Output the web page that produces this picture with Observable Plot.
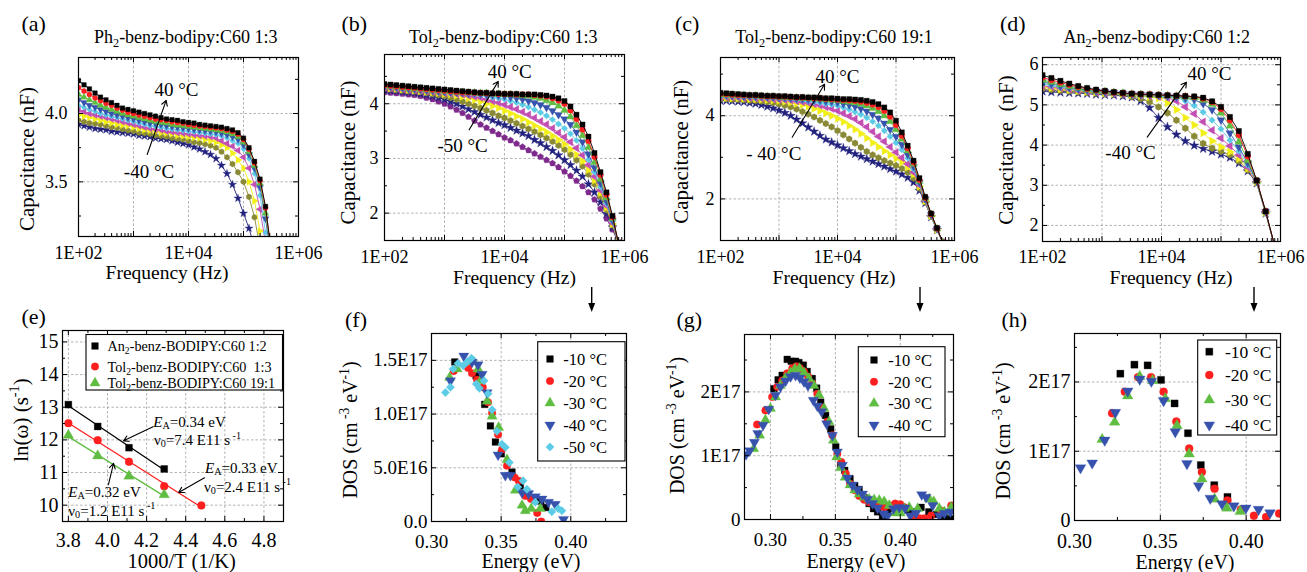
<!DOCTYPE html>
<html><head><meta charset="utf-8">
<script src="https://cdn.jsdelivr.net/npm/d3@7"></script>
<script src="https://cdn.jsdelivr.net/npm/@observablehq/plot@0.6"></script>
<style>
html,body{margin:0;padding:0;background:#fff;}
#wrap{position:relative;width:1307px;height:572px;overflow:hidden;background:#fff;}
#wrap svg{position:absolute;}
</style></head><body><div id="wrap"></div>
<script>
// ---------------- DATA ----------------
// (a)-(c) frequencies, 10 points per decade (Hz)
const freq10 = [100,126,158,200,251,316,398,501,631,794,1000,1259,1585,1995,2512,3162,3981,5012,6310,7943,10000,12589,15849,19953,25119,31623,39811,50119,63096,79433,100000,125893,158489,199526,251189,316228,398107,501187,630957,794328];
// (d) frequencies
const freq15 = [100,141,200,282,398,562,794,1122,1585,2239,3162,4467,6310,8913,12589,17783,25119,35481,50119,70795,100000,141254,199526,281838,398107,562341,794328];

// (a) Ph2-benz-bodipy:C60 1:3, capacitance (nF), 40 °C ... -40 °C
const capA_p40 = [4.24,4.21,4.18,4.15,4.12,4.10,4.08,4.06,4.04,4.03,4.02,4.01,4.00,3.99,3.98,3.97,3.96,3.955,3.95,3.94,3.935,3.93,3.92,3.915,3.91,3.905,3.90,3.89,3.88,3.86,3.82,3.75,3.65,3.52,3.32,3.00];
const capA_p30 = [4.19,4.165,4.14,4.115,4.095,4.075,4.06,4.04,4.025,4.01,4.00,3.99,3.98,3.97,3.96,3.955,3.95,3.94,3.935,3.93,3.92,3.915,3.91,3.905,3.90,3.895,3.89,3.88,3.87,3.85,3.81,3.74,3.64,3.51,3.31,3.02];
const capA_p20 = [4.14,4.12,4.10,4.08,4.06,4.045,4.03,4.015,4.00,3.99,3.98,3.97,3.96,3.95,3.94,3.935,3.93,3.92,3.915,3.91,3.905,3.90,3.895,3.89,3.885,3.88,3.875,3.865,3.85,3.83,3.79,3.72,3.62,3.49,3.27,2.98];
const capA_p10 = [4.10,4.08,4.06,4.045,4.03,4.015,4.00,3.99,3.98,3.97,3.96,3.95,3.94,3.93,3.925,3.92,3.91,3.905,3.90,3.895,3.89,3.885,3.88,3.875,3.87,3.865,3.855,3.845,3.83,3.81,3.77,3.70,3.60,3.46,3.23,2.95];
const capA_0 = [4.06,4.045,4.03,4.015,4.00,3.99,3.98,3.97,3.96,3.95,3.94,3.93,3.92,3.91,3.905,3.90,3.89,3.885,3.88,3.875,3.87,3.865,3.86,3.855,3.85,3.845,3.835,3.82,3.80,3.78,3.74,3.67,3.56,3.40,3.13,2.85];
const capA_m10 = [4.03,4.015,4.00,3.99,3.98,3.97,3.96,3.95,3.94,3.93,3.92,3.91,3.90,3.89,3.885,3.88,3.87,3.865,3.86,3.855,3.85,3.845,3.84,3.835,3.83,3.82,3.80,3.78,3.76,3.73,3.68,3.60,3.48,3.30,3.05];
const capA_m20 = [3.99,3.98,3.97,3.96,3.95,3.94,3.93,3.92,3.915,3.91,3.90,3.89,3.88,3.875,3.87,3.86,3.855,3.85,3.84,3.835,3.83,3.825,3.82,3.81,3.80,3.79,3.77,3.75,3.71,3.66,3.60,3.50,3.36,3.14,2.90];
const capA_m30 = [3.95,3.94,3.93,3.925,3.92,3.91,3.90,3.895,3.885,3.875,3.87,3.86,3.855,3.85,3.84,3.835,3.83,3.82,3.815,3.81,3.80,3.79,3.785,3.775,3.765,3.75,3.72,3.68,3.63,3.57,3.50,3.39,3.24,3.02];
const capA_m40 = [3.92,3.91,3.90,3.89,3.885,3.88,3.87,3.865,3.86,3.855,3.85,3.84,3.835,3.83,3.82,3.815,3.81,3.80,3.79,3.78,3.77,3.755,3.74,3.72,3.70,3.67,3.62,3.56,3.48,3.38,3.27,3.16,3.02];

// (b) Tol2-benz-bodipy:C60 1:3, 40 °C ... -50 °C
const capB_p40 = [4.36,4.35,4.34,4.33,4.32,4.31,4.30,4.29,4.28,4.27,4.26,4.25,4.24,4.23,4.22,4.21,4.20,4.20,4.19,4.19,4.18,4.18,4.18,4.17,4.17,4.17,4.16,4.15,4.13,4.10,4.05,3.95,3.80,3.62,3.40,3.10,2.75,2.38,1.95,1.45];
const capB_p30 = [4.34,4.33,4.32,4.31,4.30,4.29,4.28,4.27,4.26,4.25,4.24,4.23,4.22,4.21,4.21,4.20,4.20,4.19,4.19,4.18,4.18,4.18,4.17,4.17,4.17,4.16,4.15,4.13,4.10,4.06,4.00,3.88,3.72,3.53,3.32,3.03,2.70,2.34,1.93,1.45];
const capB_p20 = [4.33,4.32,4.31,4.30,4.29,4.28,4.27,4.26,4.25,4.24,4.23,4.22,4.21,4.21,4.20,4.20,4.19,4.19,4.18,4.18,4.17,4.17,4.16,4.15,4.14,4.12,4.10,4.06,4.02,3.96,3.88,3.76,3.60,3.42,3.20,2.93,2.62,2.28,1.90,1.45];
const capB_p10 = [4.32,4.31,4.30,4.29,4.28,4.27,4.26,4.25,4.24,4.23,4.22,4.21,4.21,4.20,4.19,4.19,4.18,4.17,4.16,4.15,4.14,4.12,4.10,4.08,4.05,4.02,3.98,3.93,3.87,3.80,3.72,3.62,3.48,3.30,3.08,2.83,2.55,2.22,1.87,1.45];
const capB_0 = [4.31,4.30,4.29,4.28,4.27,4.26,4.25,4.24,4.23,4.22,4.21,4.20,4.20,4.19,4.18,4.17,4.16,4.14,4.12,4.10,4.08,4.05,4.02,3.98,3.94,3.89,3.84,3.78,3.71,3.63,3.55,3.45,3.33,3.18,2.98,2.75,2.48,2.18,1.85,1.45];
const capB_m10 = [4.30,4.29,4.28,4.27,4.26,4.25,4.24,4.23,4.22,4.21,4.20,4.19,4.18,4.17,4.15,4.13,4.11,4.08,4.05,4.02,3.98,3.94,3.90,3.85,3.80,3.74,3.68,3.62,3.55,3.47,3.39,3.30,3.19,3.06,2.88,2.67,2.42,2.14,1.82,1.45];
const capB_m20 = [4.29,4.28,4.27,4.26,4.25,4.24,4.23,4.22,4.21,4.20,4.18,4.17,4.15,4.13,4.10,4.07,4.04,4.00,3.96,3.92,3.87,3.82,3.77,3.72,3.66,3.60,3.54,3.48,3.41,3.34,3.26,3.17,3.07,2.95,2.79,2.60,2.37,2.10,1.80,1.45];
const capB_m30 = [4.28,4.27,4.26,4.25,4.24,4.23,4.22,4.20,4.18,4.16,4.14,4.11,4.08,4.04,4.00,3.96,3.92,3.88,3.83,3.78,3.74,3.69,3.64,3.59,3.54,3.49,3.43,3.37,3.31,3.24,3.16,3.07,2.97,2.86,2.71,2.53,2.31,2.06,1.78,1.45];
const capB_m40 = [4.25,4.24,4.23,4.22,4.21,4.20,4.18,4.16,4.14,4.11,4.08,4.04,4.00,3.95,3.90,3.85,3.80,3.75,3.70,3.65,3.61,3.56,3.51,3.46,3.41,3.34,3.28,3.21,3.14,3.06,2.97,2.88,2.78,2.67,2.53,2.38,2.20,1.99,1.74,1.45];
const capB_m50 = [4.21,4.20,4.19,4.18,4.17,4.16,4.14,4.11,4.08,4.04,4.00,3.95,3.89,3.83,3.76,3.69,3.62,3.56,3.50,3.44,3.38,3.33,3.27,3.21,3.15,3.09,3.03,2.97,2.91,2.84,2.76,2.68,2.59,2.49,2.38,2.25,2.08,1.90,1.70,1.45];

// (c) Tol2-benz-bodipy:C60 19:1, 40 °C ... -40 °C
const capC_p40 = [4.55,4.54,4.53,4.52,4.51,4.50,4.50,4.49,4.48,4.48,4.47,4.47,4.46,4.45,4.45,4.44,4.44,4.43,4.42,4.42,4.41,4.40,4.40,4.39,4.38,4.36,4.33,4.28,4.20,4.08,3.88,3.60,3.28,2.92,2.50,2.05,1.65,1.30,0.95,0.70];
const capC_p30 = [4.53,4.52,4.51,4.50,4.50,4.49,4.49,4.48,4.47,4.47,4.46,4.46,4.45,4.44,4.44,4.43,4.42,4.42,4.41,4.40,4.39,4.38,4.37,4.36,4.34,4.31,4.27,4.21,4.12,3.98,3.78,3.52,3.22,2.88,2.46,2.03,1.64,1.29,0.95,0.70];
const capC_p20 = [4.51,4.50,4.50,4.49,4.49,4.48,4.48,4.47,4.46,4.46,4.45,4.44,4.44,4.43,4.42,4.42,4.41,4.40,4.39,4.38,4.37,4.35,4.33,4.31,4.28,4.24,4.18,4.10,4.00,3.86,3.67,3.44,3.16,2.84,2.43,2.02,1.63,1.28,0.95,0.70];
const capC_p10 = [4.49,4.49,4.48,4.48,4.47,4.47,4.46,4.46,4.45,4.45,4.44,4.43,4.42,4.41,4.40,4.39,4.38,4.37,4.35,4.34,4.32,4.29,4.26,4.22,4.17,4.11,4.03,3.94,3.82,3.67,3.50,3.31,3.07,2.78,2.40,2.00,1.62,1.28,0.95,0.70];
const capC_0 = [4.47,4.47,4.46,4.46,4.45,4.45,4.44,4.44,4.43,4.43,4.42,4.41,4.40,4.38,4.37,4.35,4.33,4.31,4.29,4.27,4.24,4.20,4.15,4.09,4.03,3.95,3.86,3.76,3.64,3.50,3.35,3.18,2.98,2.72,2.37,1.98,1.61,1.27,0.95,0.70];
const capC_m10 = [4.45,4.45,4.44,4.44,4.43,4.43,4.42,4.42,4.41,4.40,4.39,4.38,4.37,4.35,4.33,4.31,4.28,4.25,4.21,4.17,4.12,4.06,3.99,3.92,3.83,3.73,3.62,3.50,3.38,3.25,3.12,2.99,2.84,2.64,2.33,1.96,1.60,1.27,0.95,0.70];
const capC_m20 = [4.43,4.43,4.42,4.42,4.41,4.40,4.40,4.39,4.38,4.37,4.36,4.34,4.32,4.29,4.26,4.22,4.17,4.12,4.06,4.00,3.93,3.85,3.76,3.67,3.57,3.46,3.35,3.25,3.15,3.06,2.97,2.88,2.76,2.59,2.30,1.95,1.59,1.26,0.95,0.70];
const capC_m30 = [4.40,4.40,4.39,4.39,4.38,4.37,4.36,4.35,4.33,4.31,4.28,4.25,4.21,4.16,4.10,4.04,3.97,3.89,3.81,3.73,3.64,3.54,3.44,3.34,3.24,3.14,3.06,2.99,2.92,2.86,2.80,2.73,2.64,2.50,2.26,1.93,1.58,1.26,0.95,0.70];
const capC_m40 = [4.36,4.36,4.35,4.34,4.33,4.31,4.29,4.26,4.22,4.18,4.13,4.07,4.00,3.91,3.82,3.72,3.62,3.52,3.43,3.36,3.29,3.22,3.15,3.08,3.02,2.96,2.90,2.84,2.78,2.72,2.66,2.59,2.51,2.40,2.20,1.90,1.56,1.25,0.95,0.70];

// (d) An2-benz-bodipy:C60 1:2, 40 °C ... -40 °C
const capD_p40 = [5.74,5.67,5.60,5.53,5.47,5.42,5.38,5.35,5.32,5.30,5.28,5.27,5.26,5.25,5.24,5.23,5.22,5.21,5.18,5.09,4.95,4.70,4.35,3.78,3.12,2.35,1.50];
const capD_p30 = [5.68,5.62,5.56,5.50,5.45,5.40,5.37,5.34,5.31,5.29,5.28,5.27,5.26,5.25,5.24,5.23,5.22,5.20,5.16,5.07,4.90,4.62,4.25,3.72,3.12,2.35,1.50];
const capD_p20 = [5.62,5.57,5.51,5.46,5.42,5.38,5.35,5.33,5.31,5.29,5.27,5.26,5.25,5.24,5.23,5.22,5.20,5.18,5.12,5.02,4.80,4.48,4.08,3.62,3.10,2.34,1.50];
const capD_p10 = [5.57,5.52,5.47,5.43,5.40,5.37,5.34,5.32,5.30,5.28,5.27,5.26,5.25,5.24,5.22,5.20,5.17,5.13,5.03,4.88,4.62,4.30,3.95,3.55,3.10,2.34,1.50];
const capD_0 = [5.52,5.48,5.44,5.41,5.38,5.35,5.33,5.31,5.29,5.28,5.27,5.26,5.24,5.22,5.20,5.18,5.10,4.98,4.82,4.62,4.40,4.12,3.85,3.50,3.10,2.33,1.50];
const capD_m10 = [5.48,5.45,5.42,5.39,5.36,5.34,5.32,5.30,5.29,5.28,5.26,5.25,5.23,5.21,5.18,5.10,4.95,4.78,4.58,4.37,4.17,3.98,3.75,3.45,3.08,2.33,1.50];
const capD_m20 = [5.44,5.42,5.39,5.37,5.35,5.33,5.31,5.29,5.28,5.27,5.25,5.23,5.20,5.16,5.05,4.88,4.68,4.50,4.30,4.10,3.95,3.83,3.66,3.42,3.08,2.32,1.50];
const capD_m30 = [5.40,5.38,5.36,5.34,5.32,5.31,5.29,5.28,5.27,5.25,5.20,5.15,5.08,4.95,4.80,4.62,4.42,4.22,4.04,3.92,3.84,3.76,3.60,3.38,3.08,2.32,1.50];
const capD_m40 = [5.34,5.32,5.31,5.30,5.29,5.28,5.26,5.25,5.24,5.22,5.19,5.10,4.93,4.68,4.45,4.26,4.10,3.99,3.91,3.84,3.77,3.69,3.55,3.35,3.05,2.30,1.50];

// (e) Arrhenius: 1000/T (1/K) and ln(omega)
const invT_An12 = [3.80,3.95,4.11,4.29];       const lnw_An12 = [13.08,12.41,11.76,11.11];
const invT_Tol13 = [3.80,3.95,4.11,4.29,4.48];  const lnw_Tol13 = [12.51,11.99,11.33,10.58,9.99];
const invT_Tol191 = [3.80,3.95,4.11,4.29];      const lnw_Tol191 = [12.14,11.51,10.89,10.32];

// (f) DOS, Tol2 1:3 : [energy eV, DOS in 1E17 cm^-3 eV^-1]
const dosF_m10 = [[0.3167,1.485],[0.332,1.355],[0.3382,1.09],[0.3423,0.89],[0.3459,0.74],[0.3501,0.63],[0.3578,0.46],[0.3638,0.33],[0.3685,0.24],[0.3745,0.20],[0.3785,0.19],[0.3821,0.13]];
const dosF_m20 = [[0.316,1.40],[0.3263,1.43],[0.3291,1.38],[0.3327,1.32],[0.3368,1.25],[0.3406,1.11],[0.3435,1.01],[0.3478,0.81],[0.3506,0.67],[0.3542,0.52],[0.3597,0.41],[0.3626,0.38],[0.3673,0.24],[0.3714,0.21],[0.3759,0.08],[0.3788,0.0]];
const dosF_m30 = [[0.313,1.34],[0.3184,1.42],[0.3303,1.485],[0.3334,1.42],[0.3351,1.31],[0.3399,1.12],[0.3435,0.98],[0.3482,0.875],[0.3542,0.575],[0.3602,0.29],[0.365,0.15],[0.3673,0.10],[0.3716,0.12],[0.3781,0.12]];
const dosF_m40 = [[0.3136,1.31],[0.3232,1.54],[0.3291,1.485],[0.3334,1.46],[0.3363,1.37],[0.3399,1.20],[0.3478,0.62],[0.353,0.43],[0.3566,0.43],[0.365,0.27],[0.3697,0.26],[0.3745,0.23],[0.3793,0.21],[0.384,0.18],[0.3888,0.16],[0.3948,0.02]];
const dosF_m50 = [[0.310,1.20],[0.3136,1.25],[0.3155,1.42],[0.319,1.47],[0.3227,1.45],[0.3256,1.485],[0.3287,1.52],[0.3322,1.28],[0.3344,1.24],[0.3377,1.31],[0.3406,1.19],[0.3435,1.04],[0.347,0.84],[0.3506,0.72],[0.353,0.69],[0.3559,0.55],[0.362,0.32],[0.3657,0.38],[0.3685,0.30],[0.3745,0.18],[0.3864,0.09],[0.391,0.12],[0.3936,0.10]];

// (g) DOS, Tol2 19:1
const dosG_m10 = [[0.3026,2.05],[0.3059,2.19],[0.309,2.26],[0.3129,2.51],[0.316,2.48],[0.3193,2.48],[0.3219,2.46],[0.3253,2.42],[0.3283,2.32],[0.3322,2.21],[0.3356,2.06],[0.3387,1.84],[0.3425,1.63],[0.3464,1.42],[0.3503,1.14],[0.3541,0.85],[0.3572,0.77],[0.3613,0.64],[0.3649,0.53],[0.3683,0.47],[0.3722,0.34],[0.376,0.25],[0.3794,0.17],[0.3825,0.12],[0.3863,0.06],[0.3902,0.14],[0.394,0.18],[0.398,0.20],[0.402,0.19],[0.406,0.15],[0.41,0.12],[0.416,0.19],[0.422,0.12],[0.428,0.08],[0.434,0.05],[0.439,0.01]];
const dosG_m20 = [[0.2897,1.49],[0.2961,1.71],[0.3013,1.92],[0.3052,2.08],[0.309,2.18],[0.3129,2.29],[0.3168,2.37],[0.3198,2.40],[0.3227,2.37],[0.3258,2.32],[0.3289,2.24],[0.3322,2.13],[0.3361,1.97],[0.34,1.75],[0.3438,1.53],[0.3477,1.32],[0.3515,1.03],[0.3546,0.90],[0.358,0.72],[0.3613,0.56],[0.3649,0.46],[0.3683,0.37],[0.3722,0.31],[0.376,0.27],[0.3799,0.25],[0.3838,0.21],[0.3876,0.19],[0.3923,0.22],[0.3961,0.25],[0.40,0.24],[0.4031,0.19],[0.4108,0.06],[0.4147,0.02],[0.4185,0.02],[0.4237,0.06],[0.4314,0.14],[0.4392,0.22]];
const dosG_m30 = [[0.2871,1.11],[0.2917,1.32],[0.2961,1.56],[0.30,1.74],[0.3039,1.92],[0.3077,2.10],[0.3116,2.22],[0.3155,2.30],[0.3188,2.36],[0.3224,2.37],[0.3258,2.30],[0.3296,2.21],[0.3335,2.10],[0.3374,1.95],[0.3413,1.74],[0.3451,1.53],[0.3485,1.24],[0.351,0.98],[0.3541,0.81],[0.3575,0.66],[0.3613,0.54],[0.3649,0.46],[0.3683,0.40],[0.3722,0.35],[0.376,0.32],[0.3799,0.31],[0.3838,0.30],[0.3876,0.28],[0.3915,0.22],[0.3966,0.10],[0.40,0.10],[0.4031,0.17],[0.4069,0.19],[0.4134,0.17],[0.4224,0.32],[0.4258,0.28],[0.4301,0.17],[0.434,0.12],[0.4392,0.19]];
const dosG_m40 = [[0.2812,1.02],[0.284,1.08],[0.2876,1.21],[0.2902,1.35],[0.2943,1.48],[0.2987,1.73],[0.3039,1.95],[0.3077,2.08],[0.3116,2.17],[0.3155,2.24],[0.3193,2.26],[0.3227,2.22],[0.3258,2.16],[0.3289,2.10],[0.333,1.87],[0.3361,1.78],[0.3394,1.69],[0.3433,1.50],[0.3477,1.32],[0.3515,1.06],[0.3554,0.85],[0.3593,0.65],[0.3631,0.54],[0.367,0.47],[0.3709,0.40],[0.3747,0.32],[0.3786,0.25],[0.3825,0.18],[0.3871,0.09],[0.3902,0.06],[0.3948,0.17],[0.3992,0.19],[0.4036,0.18],[0.4077,0.06],[0.4121,0.10],[0.4165,0.39],[0.4198,0.35],[0.425,0.22],[0.4301,0.06],[0.434,0.10],[0.4386,0.12]];

// (h) DOS, An2 1:2
const dosH_m10 = [[0.3267,2.12],[0.3349,2.25],[0.3426,2.24],[0.3504,2.03],[0.3583,1.69],[0.3661,1.26],[0.3736,0.80],[0.3814,0.51],[0.3891,0.34]];
const dosH_m20 = [[0.3219,1.55],[0.3293,1.86],[0.337,2.07],[0.3446,2.07],[0.3519,1.86],[0.3593,1.43],[0.3668,1.04],[0.3742,0.70],[0.3816,0.46],[0.3891,0.29],[0.3969,0.16],[0.4045,0.07],[0.4116,0.05],[0.4192,0.10]];
const dosH_m30 = [[0.3161,1.17],[0.3234,1.42],[0.331,1.80],[0.338,2.08],[0.3455,2.02],[0.3529,1.76],[0.3597,1.37],[0.3668,0.96],[0.3742,0.60],[0.3816,0.31],[0.3888,0.18],[0.3965,0.13]];
const dosH_m40 = [[0.3035,0.76],[0.3103,0.83],[0.3176,1.16],[0.3238,1.56],[0.331,1.87],[0.338,2.04],[0.3448,2.01],[0.3519,1.73],[0.3587,1.28],[0.3655,0.82],[0.3723,0.50],[0.3791,0.32],[0.3859,0.24],[0.3928,0.21],[0.3998,0.18],[0.4072,0.16],[0.4139,0.11]];

// labels
const titles = ["-benz-bodipy:C60 1:3","-benz-bodipy:C60 1:3","-benz-bodipy:C60 19:1","-benz-bodipy:C60 1:2"];
const freqTickLabels = [[100,"1E+02"],[10000,"1E+04"],[1000000,"1E+06"]];
const legendDOS5 = ["-10 °C","-20 °C","-30 °C","-40 °C","-50 °C"];
const legendArr = ["-benz-BODIPY:C60 1:2","-benz-BODIPY:C60  1:3","-benz-BODIPY:C60 19:1"];

// annotations (data coordinates)
const annA = [{x:2410,y:4.132,t:"40 °C"},{x:667,y:3.532,t:"-40 °C"}];
const arrA = [{x1:1775,y1:3.70,x2:3926,y2:4.096}];
const annB = [{x:5236,y:4.47,t:"40 °C"},{x:762,y:3.125,t:"-50 °C"}];
const arrB = [{x1:2577,y1:3.523,x2:7870,y2:4.409}];
const annC = [{x:4207,y:4.79,t:"40 °C"},{x:276,y:2.93,t:"- 40 °C"}];
const arrC = [{x1:1679,y1:3.483,x2:6012,y2:4.755}];
const annD = [{x:27290,y:5.61,t:"40 °C"},{x:1138,y:3.66,t:"-40 °C"}];
const arrD = [{x1:5754,y1:4.199,x2:26240,y2:5.567}];
const arrE = [{x1:4.233,y1:12.40,x2:4.082,y2:11.97},{x1:4.496,y1:10.84,x2:4.364,y2:10.39},{x1:4.005,y1:10.63,x2:4.031,y2:11.28}];

// ---------------- STYLE ----------------
const FONT = '"Liberation Serif","Times New Roman",serif';
const COLORS = ["#000000","#ff1f1f","#5fbd42","#3652ad","#5ccbe6","#c24db3","#f2ee18","#8a8a36","#22227e","#7e2a8c"];
const pentagon = {draw(ctx, size){const r=Math.sqrt(size/2.3776);for(let i=0;i<5;i++){const a=-Math.PI/2+i*2*Math.PI/5;const x=r*Math.cos(a),y=r*Math.sin(a);if(i)ctx.lineTo(x,y);else ctx.moveTo(x,y);}ctx.closePath();}};
const SYMS = [{symbol:"square"},{symbol:"circle"},{symbol:"triangle"},{symbol:"triangle",rotate:180},{symbol:"diamond2"},{symbol:"triangle",rotate:-90},{symbol:"triangle",rotate:90},{symbol:"hexagon"},{symbol:"star"},{symbol:pentagon}];

const wrap = document.getElementById("wrap");
const logMinor = [];
for (const dec of [100,1000,10000,100000]) for (let m=2;m<=9;m++) logMinor.push(dec*m);

function curveMarks(freqs, list, r) {
  const out = [];
  for (let k=list.length-1;k>=0;k--) {
    const rows = list[k].map((v,i)=>({x:freqs[i], y:v}));
    out.push(Plot.line(rows,{x:"x",y:"y",stroke:COLORS[k],strokeWidth:0.9,clip:true}));
    out.push(Plot.dot(rows,{x:"x",y:"y",r,fill:COLORS[k],stroke:COLORS[k],strokeWidth:0.3,clip:true,...SYMS[k]}));
  }
  return out;
}
function dosMarks(list, r) {
  const out = [];
  list.forEach((pts,k)=>{
    const rows = pts.map(([e,d])=>({x:e,y:d}));
    out.push(Plot.dot(rows,{x:"x",y:"y",r,fill:COLORS[k],stroke:COLORS[k],strokeWidth:0.3,clip:true,...SYMS[k]}));
  });
  return out;
}
function annMarks(ann, arr) {
  return [
    Plot.arrow(arr,{x1:"x1",y1:"y1",x2:"x2",y2:"y2",stroke:"black",strokeWidth:1.1,headLength:8}),
    Plot.text(ann,{x:"x",y:"y",text:"t",textAnchor:"start",lineAnchor:"middle",dy:-6,fontSize:19,fill:"black"})
  ];
}

function panel(p) {
  const ml=80, mr=50, mt=20, mb=45;
  const fw=p.fr-p.fl, fh=p.fb-p.ft;
  const lo=Math.min(...p.xDomain), hi=Math.max(...p.xDomain);
  const inX=v=>v>=lo-1e-9&&v<=hi+1e-9, inY=v=>v>=p.yDomain[0]-1e-9&&v<=p.yDomain[1]+1e-9;
  const xMap=new Map(p.xLabels), yMap=new Map(p.yLabels);
  const grid={stroke:"#a0a0a0",strokeWidth:0.8,strokeDasharray:"2.5,2"};
  const marks=[
    Plot.ruleX(p.xGrid.filter(inX),grid),
    Plot.ruleY(p.yGrid.filter(inY),grid),
    ...p.marks,
    Plot.ruleX(p.xMajor.filter(inX),{insetTop:fh-5,stroke:"black"}),
    Plot.ruleX(p.xMajor.filter(inX),{insetBottom:fh-5,stroke:"black"}),
    Plot.ruleX(p.xMinor.filter(inX),{insetTop:fh-3,stroke:"black"}),
    Plot.ruleX(p.xMinor.filter(inX),{insetBottom:fh-3,stroke:"black"}),
    Plot.ruleY(p.yMajor.filter(inY),{insetRight:fw-5,stroke:"black"}),
    Plot.ruleY(p.yMajor.filter(inY),{insetLeft:fw-5,stroke:"black"}),
    Plot.ruleY(p.yMinor.filter(inY),{insetRight:fw-3,stroke:"black"}),
    Plot.ruleY(p.yMinor.filter(inY),{insetLeft:fw-3,stroke:"black"}),
    Plot.axisX({ticks:p.xLabels.map(d=>d[0]),tickFormat:d=>xMap.get(d),tickSize:0,tickPadding:p.xPad,fontSize:p.fs,label:null}),
    Plot.axisY({ticks:p.yLabels.map(d=>d[0]),tickFormat:d=>yMap.get(d),tickSize:0,tickPadding:p.yPad,fontSize:p.fs,label:null}),
    Plot.frame({stroke:"black",strokeWidth:1.2})
  ];
  const svg=Plot.plot({
    width:fw+ml+mr,height:fh+mt+mb,marginLeft:ml,marginRight:mr,marginTop:mt,marginBottom:mb,
    x:{type:p.xType||"linear",domain:p.xDomain},
    y:{domain:p.yDomain},
    style:{background:"transparent",fontFamily:FONT,fontSize:p.fs+"px",overflow:"visible"},
    marks
  });
  svg.style.position="absolute";
  svg.style.left=(p.fl-ml)+"px";
  svg.style.top=(p.ft-mt)+"px";
  svg.style.maxWidth="none";
  wrap.appendChild(svg);
}

const freqX = {xType:"log",xDomain:[100,1e6],xMajor:[100,1000,10000,100000,1000000],xMinor:logMinor,xGrid:[1000,10000,100000],xLabels:freqTickLabels,fs:18};

panel({...freqX,fl:78,fr:298,ft:57,fb:236,yDomain:[3.10,4.41],yMajor:[3.5,4.0],yMinor:[3.25,3.75,4.25],yGrid:[3.5,4.0],
  yLabels:[[3.5,"3.5"],[4.0,"4.0"]],xPad:10,yPad:11,
  marks:[...curveMarks(freq10,[capA_p40,capA_p30,capA_p20,capA_p10,capA_0,capA_m10,capA_m20,capA_m30,capA_m40],2.6),...annMarks(annA,arrA)]});
panel({...freqX,fl:384,fr:624,ft:54,fb:240,yDomain:[1.5,4.9],yMajor:[2,3,4],yMinor:[2.5,3.5,4.5],yGrid:[2,3,4],
  yLabels:[[2,"2"],[3,"3"],[4,"4"]],xPad:10,yPad:6,
  marks:[...curveMarks(freq10,[capB_p40,capB_p30,capB_p20,capB_p10,capB_0,capB_m10,capB_m20,capB_m30,capB_m40,capB_m50],2.9),...annMarks(annB,arrB)]});
panel({...freqX,fl:720,fr:954,ft:57,fb:240,yDomain:[1.0,5.4],yMajor:[2,4],yMinor:[1,3,5],yGrid:[2,4],
  yLabels:[[2,"2"],[4,"4"]],xPad:10,yPad:6,
  marks:[...curveMarks(freq10,[capC_p40,capC_p30,capC_p20,capC_p10,capC_0,capC_m10,capC_m20,capC_m30,capC_m40],2.9),...annMarks(annC,arrC)]});
panel({...freqX,fl:1042,fr:1280,ft:57,fb:241,yDomain:[1.6,6.18],yMajor:[2,3,4,5,6],yMinor:[2.5,3.5,4.5,5.5],yGrid:[2,3,4,5,6],
  yLabels:[[2,"2"],[3,"3"],[4,"4"],[5,"5"],[6,"6"]],xPad:9,yPad:4,
  marks:[...curveMarks(freq15,[capD_p40,capD_p30,capD_p20,capD_p10,capD_0,capD_m10,capD_m20,capD_m30,capD_m40],3.0),...annMarks(annD,arrD)]});

// (e)
const arrSeries=[[invT_An12,lnw_An12],[invT_Tol13,lnw_Tol13],[invT_Tol191,lnw_Tol191]];
const eMarks=[];
arrSeries.forEach(([xs,ys],k)=>{
  const rows=xs.map((x,i)=>({x,y:ys[i]}));
  eMarks.push(Plot.linearRegressionY(rows,{x:"x",y:"y",stroke:COLORS[k],strokeWidth:1.3,ci:0}));
});
arrSeries.forEach(([xs,ys],k)=>{
  const rows=xs.map((x,i)=>({x,y:ys[i]}));
  eMarks.push(Plot.dot(rows,{x:"x",y:"y",r:3.9,fill:COLORS[k],stroke:COLORS[k],strokeWidth:0.3,...SYMS[k]}));
});
eMarks.push(Plot.arrow(arrE,{x1:"x1",y1:"y1",x2:"x2",y2:"y2",stroke:"black",strokeWidth:1.1,headLength:8}));
panel({fl:62,fr:283,ft:330,fb:521,xDomain:[3.77,4.9],yDomain:[9.5,15.35],
  xMajor:[3.8,4.0,4.2,4.4,4.6,4.8],xMinor:[3.9,4.1,4.3,4.5,4.7,4.9],xGrid:[3.8,4.0,4.2,4.4,4.6,4.8],
  yMajor:[10,11,12,13,14,15],yMinor:[9.5,10.5,11.5,12.5,13.5,14.5],yGrid:[10,11,12,13,14,15],
  xLabels:[[3.8,"3.8"],[4.0,"4.0"],[4.2,"4.2"],[4.4,"4.4"],[4.6,"4.6"],[4.8,"4.8"]],
  yLabels:[[10,"10"],[11,"11"],[12,"12"],[13,"13"],[14,"14"],[15,"15"]],
  xPad:11,yPad:4,fs:20,marks:eMarks});

const eX={xMajor:[0.30,0.35,0.40],xMinor:[0.275,0.325,0.375,0.425],xLabels:[[0.30,"0.30"],[0.35,"0.35"],[0.40,"0.40"]]};
panel({...eX,fl:431,fr:626,ft:333,fb:521,xDomain:[0.30,0.44],yDomain:[0,1.75],xGrid:[0.35,0.40],
  yMajor:[0,0.5,1.0,1.5],yMinor:[0.25,0.75,1.25],yGrid:[0.5,1.0,1.5],
  yLabels:[[0,"0.0"],[0.5,"5.0E16"],[1.0,"1.0E17"],[1.5,"1.5E17"]],xPad:13,yPad:4,fs:19,
  marks:dosMarks([dosF_m10,dosF_m20,dosF_m30,dosF_m40,dosF_m50],3.8)});
panel({...eX,fl:744,fr:953,ft:334,fb:519,xDomain:[0.28,0.441],yDomain:[0,2.9],xGrid:[0.30,0.35,0.40],
  yMajor:[0,1,2],yMinor:[0.5,1.5,2.5],yGrid:[1,2],
  yLabels:[[0,"0"],[1,"1E17"],[2,"2E17"]],xPad:13,yPad:4,fs:19,
  marks:dosMarks([dosG_m10,dosG_m20,dosG_m30,dosG_m40],3.8)});
panel({...eX,fl:1074,fr:1280,ft:333,fb:520,xDomain:[0.30,0.42],yDomain:[0,2.7],xGrid:[0.35,0.40],
  yMajor:[0,1,2],yMinor:[0.5,1.5,2.5],yGrid:[1,2],
  yLabels:[[0,"0"],[1,"1E17"],[2,"2E17"]],xPad:13,yPad:4,fs:20,
  marks:dosMarks([dosH_m10,dosH_m20,dosH_m30,dosH_m40],4.0)});

// ---------------- OVERLAY TEXT ----------------
const ov=d3.create("svg").attr("width",1307).attr("height",572).style("left","0px").style("top","0px")
  .style("pointer-events","none").attr("font-family",FONT);
function txt(x,y,parts,size,anchor="start",rot=0,subShift=0.22){
  const t=ov.append("text").attr("font-size",size).attr("text-anchor",anchor).attr("fill","black").style("white-space","pre");
  if(rot) t.attr("transform",`translate(${x},${y}) rotate(${rot})`); else t.attr("x",x).attr("y",y);
  let shift=0;
  parts.forEach(pt=>{
    const [s,kind,style]=Array.isArray(pt)?pt:[pt];
    const target=kind==="sub"?subShift*size:kind==="sup"?-0.42*size:0;
    const ts=t.append("tspan").text(s).attr("dy",target-shift);
    if(kind) ts.attr("font-size",size*0.68);
    if(style==="italic") ts.attr("font-style","italic");
    shift=target;
  });
}
// panel letters
[["(a)",21.5,30.5],["(b)",341.5,30.5],["(c)",675,30.5],["(d)",1000,30.5],["(e)",21.5,324],["(f)",345,327],["(g)",676.5,327],["(h)",1001.5,327]]
  .forEach(([s,x,y])=>txt(x,y,[s],22));
// titles
txt(185.8,43,["Ph",["2","sub"],titles[0]],18,"middle");
txt(503.3,43,["Tol",["2","sub"],titles[1]],18,"middle");
txt(834,43,["Tol",["2","sub"],titles[2]],18,"middle");
txt(1156.7,43,["An",["2","sub"],titles[3]],18,"middle");
// x labels
txt(167,279,["Frequency (Hz)"],19.5,"middle");
txt(514.5,284,["Frequency (Hz)"],19.5,"middle");
txt(834,284,["Frequency (Hz)"],19.5,"middle");
txt(1171,284,["Frequency (Hz)"],19.5,"middle");
txt(181.7,568,["1000/T (1/K)"],20.5,"middle");
txt(531,568,["Energy (eV)"],20,"middle");
txt(856,568,["Energy (eV)"],20,"middle");
txt(1185,569,["Energy (eV)"],20,"middle");
// y labels
txt(33.5,159,["Capacitance (nF)"],21,"middle",-90);
txt(355,152.5,["Capacitance (nF)"],21,"middle",-90);
txt(688,151.7,["Capacitance (nF)"],21,"middle",-90);
txt(1013,150,["Capacitance  (nF)"],21,"middle",-90);
txt(28,420,["ln(ω) (s",["-1","sup"],")"],21,"middle",-90);
txt(357,430,["DOS (cm",[" -3","sup"]," eV",["-1","sup"],")"],20,"middle",-90);
txt(684,425.5,["DOS (cm",[" -3","sup"]," eV",["-1","sup"],")"],20,"middle",-90);
txt(1010,431,["DOS (cm",[" -3","sup"]," eV",["-1","sup"],")"],20,"middle",-90);
// (e) annotations
txt(153.3,426.5,[["E","","italic"],["A","sub"],"=0.34 eV"],15,"start",0,0.15);
txt(154,445,["ν",["0","sub"],"=7.4 E11 s",[" -1","sup"]],15,"start",0,0.15);
txt(205,473,[["E","","italic"],["A","sub"],"=0.33 eV"],15,"start",0,0.15);
txt(204,491.5,["ν",["0","sub"],"=2.4 E11 s",[" -1","sup"]],15,"start",0,0.15);
txt(68.3,497,[["E","","italic"],["A","sub"],"=0.32 eV"],15,"start",0,0.15);
txt(68.3,515.5,["ν",["0","sub"],"=1.2 E11 s",[" -1","sup"]],15,"start",0,0.15);

// legends
const symType={square:d3.symbolSquare,circle:d3.symbolCircle,triangle:d3.symbolTriangle,diamond2:d3.symbolDiamond2};
function marker(x,y,k,r){
  const s=SYMS[k];
  ov.append("path").attr("d",d3.symbol(symType[s.symbol],Math.PI*r*r)())
    .attr("transform",`translate(${x},${y}) rotate(${s.rotate||0})`)
    .attr("fill",COLORS[k]).attr("stroke",COLORS[k]).attr("stroke-width",0.3);
}
function box(x0,y0,x1,y1){ov.append("rect").attr("x",x0).attr("y",y0).attr("width",x1-x0).attr("height",y1-y0).attr("fill","white").attr("stroke","black").attr("stroke-width",1.1);}
// (e)
box(86,334.5,282.5,390);
const prefE=["An","Tol","Tol"];
[346,366.5,383].forEach((y,k)=>{marker(95,y,k,3.8);txt(107.5,y+5,[prefE[k],["2","sub"],legendArr[k]],14.2);});
// (f)
box(537.7,341.7,625,461);
[359,381,403,425,447].forEach((y,k)=>{marker(550,y,k,3.8);txt(563.3,y+6,[legendDOS5[k]],16.5);});
// (g)
box(858.3,346.7,945,436.7);
[360,381.7,403.3,425].forEach((y,k)=>{marker(874,y,k,3.8);txt(888.3,y+6,[legendDOS5[k]],16.5);});
// (h)
box(1197.7,340,1276.7,435);
[351.7,375,400,425].forEach((y,k)=>{marker(1209.3,y,k,4);txt(1225,y+6,[legendDOS5[k]],17.5);});
// down arrows between rows
[591.7,920,1254].forEach(x=>{
  ov.append("line").attr("x1",x).attr("x2",x).attr("y1",287).attr("y2",305).attr("stroke","black").attr("stroke-width",1.4);
  ov.append("path").attr("d",`M${x-3.5},303 L${x+3.5},303 L${x},312 Z`).attr("fill","black");
});
wrap.appendChild(ov.node());
</script></body></html>
